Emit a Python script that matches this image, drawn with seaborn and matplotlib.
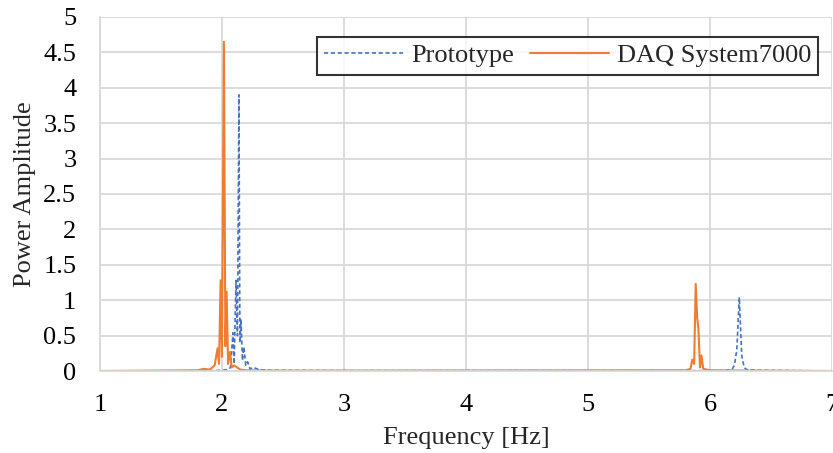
import matplotlib
matplotlib.use("Agg")
import matplotlib.pyplot as plt
import seaborn as sns
import pandas as pd

proto_freq = [1.0, 1.9, 2.0, 2.05, 2.07, 2.09, 2.10, 2.115, 2.127, 2.139, 2.147, 2.156, 2.168,
              2.18, 2.195, 2.21, 2.23, 2.26, 2.30, 2.40, 3.0, 6.10, 6.18, 6.20, 6.22, 6.24,
              6.26, 6.28, 6.30, 6.40, 7.0]
proto_amp = [0.0, 0.005, 0.01, 0.02, 0.05, 0.54, 0.10, 1.28, 0.50, 3.90, 0.40, 0.72, 0.15,
             0.34, 0.08, 0.13, 0.03, 0.05, 0.02, 0.01, 0.005, 0.005, 0.02, 0.08, 0.30, 1.04,
             0.22, 0.05, 0.02, 0.01, 0.0]

daq_freq = [1.0, 1.80, 1.85, 1.90, 1.94, 1.964, 1.976, 1.989, 2.0, 2.016, 2.028, 2.038, 2.05,
            2.066, 2.08, 2.10, 2.15, 2.20, 2.50, 5.80, 5.84, 5.855, 5.87, 5.883, 5.895, 5.905,
            5.918, 5.93, 5.945, 6.0, 7.0]
daq_amp = [0.0, 0.01, 0.03, 0.02, 0.08, 0.32, 0.10, 1.28, 0.20, 4.65, 0.35, 1.12, 0.10,
           0.27, 0.05, 0.08, 0.02, 0.01, 0.005, 0.01, 0.03, 0.16, 0.10, 1.23, 0.75, 0.60,
           0.05, 0.22, 0.03, 0.01, 0.0]

x_ticks = [1, 2, 3, 4, 5, 6, 7]
y_ticks = [0, 0.5, 1, 1.5, 2, 2.5, 3, 3.5, 4, 4.5, 5]
y_tick_labels = ["0", "0.5", "1", "1.5", "2", "2.5", "3", "3.5", "4", "4.5", "5"]

sns.set_style("white")
plt.rcParams["font.family"] = ["Liberation Serif", "DejaVu Serif"]

fig = plt.figure(figsize=(8.33, 4.53), dpi=100)
ax = fig.add_axes([0.120, 0.181, 0.8788, 0.7815])

df_p = pd.DataFrame({"f": proto_freq, "a": proto_amp})
df_d = pd.DataFrame({"f": daq_freq, "a": daq_amp})

sns.lineplot(data=df_p, x="f", y="a", ax=ax, color="#4472C4", linewidth=1.2,
             label="Prototype", estimator=None, sort=False)
ax.lines[-1].set_dashes((2.5, 1.6))
sns.lineplot(data=df_d, x="f", y="a", ax=ax, color="#ED7D31", linewidth=1.5,
             label="DAQ System7000", estimator=None, sort=False)

ax.set_xlim(1, 7)
ax.set_ylim(0, 5)
ax.set_xticks(x_ticks)
ax.set_xticklabels([str(t) for t in x_ticks])
ax.set_yticks(y_ticks)
ax.set_yticklabels(y_tick_labels)
ax.grid(True, color="#D9D9D9", linewidth=1.3)
ax.set_axisbelow(True)
for s in ["top", "right"]:
    ax.spines[s].set_visible(False)
for s in ["left", "bottom"]:
    ax.spines[s].set_color("#D9D9D9")
    ax.spines[s].set_linewidth(1.3)
ax.tick_params(axis="both", length=0, labelsize=19, colors="black")
ax.tick_params(axis="x", pad=16.5)
ax.tick_params(axis="y", pad=17)
ax.set_xlabel("Frequency [Hz]", fontsize=19, labelpad=8)
ax.set_ylabel("Power Amplitude", fontsize=19, labelpad=5)

leg = ax.legend(loc="upper right", bbox_to_anchor=(0.981, 0.944), ncol=2, fontsize=19,
                frameon=True, fancybox=False, edgecolor="black", handlelength=3.0,
                columnspacing=0.6, borderpad=0.27, handletextpad=0.3, borderaxespad=0)
leg.get_frame().set_linewidth(1.5)

fig.savefig("out.png", dpi=100)
